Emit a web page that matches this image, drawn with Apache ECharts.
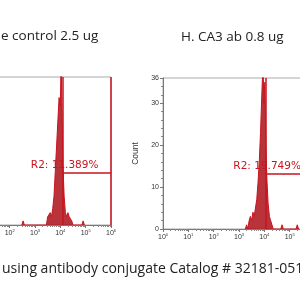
<!DOCTYPE html>
<html>
<head>
<meta charset="utf-8">
<script src="https://cdn.jsdelivr.net/npm/echarts@6/dist/echarts.min.js"></script>
<style>
  html, body { margin: 0; padding: 0; background: #fff; }
  #main { width: 300px; height: 300px; }
</style>
</head>
<body>
<div id="main"></div>
<script>
// histogram bins (log10 of fluorescence) and counts
var leftExp   = [2.48, 2.53, 2.58, 3.45, 3.50, 3.55, 3.60, 3.65, 3.70, 3.75, 3.80, 3.85, 3.90, 3.95, 4.00, 4.03, 4.06, 4.10, 4.15, 4.20, 4.25, 4.30, 4.35, 4.40, 4.45, 4.50, 4.85, 4.90, 4.95];
var leftCount = [0,    1,    0,    0,    2,    2,    3,    2,    4,    7,    13,   19,   25,   31,   29,   40,   30,   15,   7,    3,    2,    3,    2,    2,    1,    0,    0,    1,    0];

var rightExp   = [3.25, 3.30, 3.35, 3.40, 3.45, 3.50, 3.55, 3.60, 3.65, 3.70, 3.75, 3.80, 3.85, 3.90, 3.95, 3.98, 4.02, 4.06, 4.10, 4.15, 4.20, 4.25, 4.30, 4.35, 4.65, 4.70, 4.75, 5.25, 5.30, 5.35];
var rightCount = [0,    1,    0,    2,    3,    2,    4,    3,    5,    7,    11,   16,   23,   32,   40,   30,   35,   20,   12,   6,    3,    2,    1,    0,    0,    1,    0,    0,    1,    0];

// R2 gates: [start, end] in log10 units, bar level in counts, label
var leftGate  = [4.1, 6];
var rightGate = [4.04, 6];
var leftLevel = 12.6;
var rightLevel = 13.1;
var leftLabel = 'R2: 11.389%';
var rightLabel = 'R2: 19.749%';

var yMax = 36;

function pairs(xs, ys) {
    var out = [];
    for (var i = 0; i < xs.length; i++) out.push([xs[i], ys[i]]);
    return out;
}

var minorVals = [];
for (var n = 0; n < 6; n++) {
    for (var k = 2; k < 10; k++) minorVals.push(n + Math.log10(k));
}

var red = '#c8141e';

function xMain(grid) {
    return {
        type: 'value', gridIndex: grid, min: 0, max: 6, interval: 1, position: 'bottom',
        axisLine: { lineStyle: { color: '#777', width: 1 } },
        axisTick: { length: 3, lineStyle: { color: '#777' } },
        splitLine: { show: false },
        axisLabel: {
            margin: 4,
            formatter: function (v) { return '{b|10}{s|' + v + '}'; },
            rich: {
                b: { fontSize: 7, color: '#333', fontFamily: 'Arial' },
                s: { fontSize: 4, color: '#333', verticalAlign: 'top', padding: [0, 0, 4, 0] }
            }
        }
    };
}
function xMinor(grid) {
    return {
        type: 'value', gridIndex: grid, min: 0, max: 6, position: 'bottom',
        axisLine: { show: false },
        axisLabel: { show: false },
        splitLine: { show: false },
        axisTick: { show: true, length: 2, customValues: minorVals, lineStyle: { color: '#888' } }
    };
}

function gateSeries(x, y, gate, level, label) {
    return {
        type: 'line', xAxisIndex: x, yAxisIndex: y, silent: true,
        data: [],
        markLine: {
            silent: true, symbol: 'none', animation: false,
            lineStyle: { color: red, width: 1.5, type: 'solid' },
            label: { show: false },
            data: [
                [{ coord: [gate[0], 0] }, { coord: [gate[0], yMax] }],
                [{ coord: [gate[1], 0] }, { coord: [gate[1], yMax] }],
                [{ coord: [gate[0], level] }, { coord: [gate[1], level] }]
            ]
        },
        markPoint: {
            silent: true, symbol: 'circle', symbolSize: 0, animation: false,
            data: [{ coord: [gate[0], level] }],
            label: {
                show: true, formatter: label, position: 'inside',
                align: 'left', offset: [-32, -8],
                color: red, fontSize: 10.5, fontFamily: 'DejaVu Sans'
            }
        }
    };
}

function histSeries(x, y, xs, ys) {
    return {
        type: 'line', xAxisIndex: x, yAxisIndex: y, clip: true,
        data: pairs(xs, ys), symbol: 'none', smooth: false,
        lineStyle: { color: red, width: 1 },
        areaStyle: { color: '#a8000a', opacity: 0.8 },
        z: 3
    };
}

var chart = echarts.init(document.getElementById('main'));
chart.setOption({
    backgroundColor: '#fff',
    animation: false,
    title: [
        { text: 'e control 2.5 ug', left: -4, top: 24,
          textStyle: { fontSize: 13.5, fontWeight: 'normal', color: '#222', fontFamily: 'Open Sans' } },
        { text: 'H. CA3 ab 0.8 ug', left: 176, top: 25,
          textStyle: { fontSize: 13.5, fontWeight: 'normal', color: '#222', fontFamily: 'Open Sans' } },
        { text: 'using antibody conjugate Catalog # 32181-0515', left: -3, top: 257,
          textStyle: { fontSize: 14, fontWeight: 'normal', color: '#222', fontFamily: 'Open Sans' } }
    ],
    grid: [
        { left: -41, width: 152, top: 77, height: 148, show: true, borderColor: '#aaa', borderWidth: 1, outerBoundsMode: 'none' },
        { left: 163, width: 152, top: 78, height: 151, show: true, borderColor: '#aaa', borderWidth: 1, outerBoundsMode: 'none' }
    ],
    xAxis: [xMain(0), xMain(1), xMinor(0), xMinor(1)],
    yAxis: [
        { type: 'value', gridIndex: 0, min: 0, max: yMax, interval: 10,
          axisLine: { show: true, lineStyle: { color: '#777' } },
          axisTick: { show: true }, axisLabel: { show: false }, splitLine: { show: false } },
        { type: 'value', gridIndex: 1, min: 0, max: yMax, interval: 10,
          name: 'Count', nameLocation: 'middle', nameGap: 20, nameRotate: 90,
          nameTextStyle: { fontSize: 8.5, color: '#333', fontFamily: 'Arial' },
          axisLine: { show: true, lineStyle: { color: '#777' } },
          axisTick: { show: true, length: 3, lineStyle: { color: '#777' } },
          minorTick: { show: true, splitNumber: 5, length: 2, lineStyle: { color: '#888' } },
          axisLabel: { fontSize: 7, color: '#333', margin: 4, fontFamily: 'Arial' },
          splitLine: { show: false } }
    ],
    series: [
        histSeries(0, 0, leftExp, leftCount),
        histSeries(1, 1, rightExp, rightCount),
        gateSeries(0, 0, leftGate, leftLevel, leftLabel),
        gateSeries(1, 1, rightGate, rightLevel, rightLabel)
    ]
});
</script>
</body>
</html>
